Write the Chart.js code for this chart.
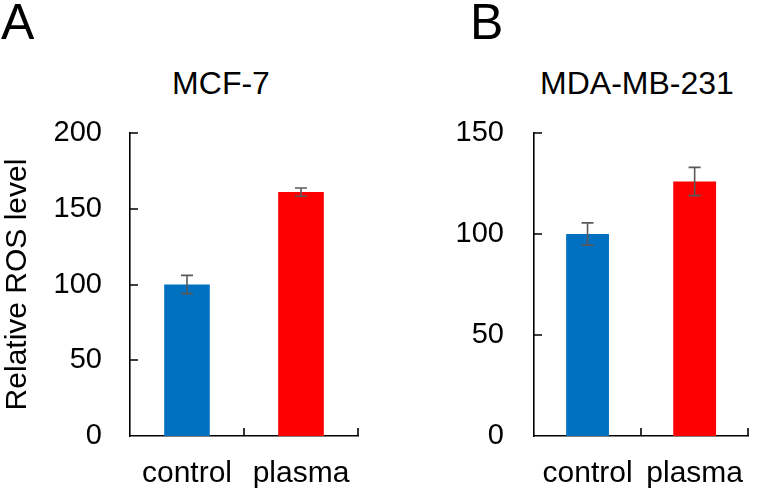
<!DOCTYPE html>
<html>
<head>
<meta charset="utf-8">
<script src="https://cdn.jsdelivr.net/npm/chart.js@4"></script>
<style>
  body { margin: 0; background: #fff; width: 764px; height: 492px; overflow: hidden; position: relative; font-family: "Liberation Sans", Arial, sans-serif; }
  canvas { position: absolute; top: 0; }
  .panel-letter { position: absolute; font-size: 50px; line-height: 50px; color: #000; }
  .panel-title { position: absolute; font-size: 32px; line-height: 32px; color: #000; text-align: center; width: 300px; }
</style>
</head>
<body>
<div class="panel-letter" style="left:1px; top:-3px;">A</div>
<div class="panel-letter" style="left:470px; top:-3px;">B</div>
<div class="panel-title" style="left:71px; top:67px;">MCF-7</div>
<div class="panel-title" style="left:487px; top:67px;">MDA-MB-231</div>
<canvas id="chartA" width="382" height="492" style="left:0"></canvas>
<canvas id="chartB" width="382" height="492" style="left:382px"></canvas>
<script>
// data
const categories = ['control', 'plasma'];
const mcfValues = [100, 161];
const mcfErrors = [6, 2.7];
const mdaValues = [100, 126];
const mdaErrors = [5.5, 7];
const mcfYTicks = [0, 50, 100, 150, 200];
const mdaYTicks = [0, 50, 100, 150];
const barColors = ['#0070C0', '#FF0000'];

const FONT = '"Liberation Sans", Arial, sans-serif';

// error bars drawn on top of the bars
const errorBars = {
    id: 'errorBars',
    afterDatasetsDraw(chart, args, opts) {
        const { ctx } = chart;
        const y = chart.scales.y;
        const meta = chart.getDatasetMeta(0);
        const values = chart.data.datasets[0].data;
        ctx.save();
        ctx.strokeStyle = '#595959';
        ctx.lineWidth = 1.6;
        meta.data.forEach((bar, i) => {
            const err = opts.errors[i];
            const top = y.getPixelForValue(values[i] + err);
            const bot = y.getPixelForValue(values[i] - err);
            ctx.beginPath();
            ctx.moveTo(bar.x, top); ctx.lineTo(bar.x, bot);
            ctx.moveTo(bar.x - 6, top); ctx.lineTo(bar.x + 6, top);
            ctx.moveTo(bar.x - 6, bot); ctx.lineTo(bar.x + 6, bot);
            ctx.stroke();
        });
        ctx.restore();
    }
};

// tick marks pointing into the plot, like the Excel original
const innerTicks = {
    id: 'innerTicks',
    afterDraw(chart) {
        const { ctx, chartArea } = chart;
        const x = chart.scales.x, y = chart.scales.y;
        ctx.save();
        ctx.strokeStyle = '#000';
        ctx.lineWidth = 1.6;
        ctx.beginPath();
        y.ticks.forEach(t => {
            if (t.value === 0) return;
            const py = Math.round(y.getPixelForValue(t.value));
            ctx.moveTo(chartArea.left, py);
            ctx.lineTo(chartArea.left + 8, py);
        });
        const step = x.getPixelForValue(1) - x.getPixelForValue(0);
        categories.forEach((c, i) => {
            const px = Math.round(x.getPixelForValue(i) + step / 2);
            ctx.moveTo(px, chartArea.bottom);
            ctx.lineTo(px, chartArea.bottom - 8);
        });
        ctx.stroke();
        ctx.restore();
    }
};

function makeChart(id, values, errors, yTicks, axisWidth, labelPad, padRight, yTitle) {
    return new Chart(document.getElementById(id), {
        type: 'bar',
        data: {
            labels: categories,
            datasets: [{
                data: values,
                backgroundColor: barColors,
                borderWidth: 0,
                barPercentage: 0.4,
                categoryPercentage: 1
            }]
        },
        options: {
            responsive: false,
            animation: false,
            devicePixelRatio: 1,
            layout: { padding: { top: 133, right: padRight, bottom: 0, left: 0 } },
            plugins: {
                legend: { display: false },
                tooltip: { enabled: false },
                errorBars: { errors }
            },
            scales: {
                x: {
                    grid: { display: false, drawTicks: false },
                    border: { display: true, color: '#000', width: 1.6 },
                    ticks: { color: '#000', padding: 20, font: { family: FONT, size: 30 } },
                    afterFit(scale) { scale.height = 56; }
                },
                y: {
                    min: yTicks[0],
                    max: yTicks[yTicks.length - 1],
                    grid: { display: false, drawTicks: false },
                    border: { display: true, color: '#000', width: 1.6 },
                    ticks: { stepSize: yTicks[1] - yTicks[0], color: '#000', padding: labelPad, font: { family: FONT, size: 29 } },
                    title: {
                        display: !!yTitle,
                        text: yTitle || '',
                        color: '#000',
                        padding: 0,
                        font: { family: FONT, size: 30 }
                    },
                    afterFit(scale) { scale.width = axisWidth; }
                }
            }
        },
        plugins: [errorBars, innerTicks]
    });
}

makeChart('chartA', mcfValues, mcfErrors, mcfYTicks, 130, 28, 24, 'Relative ROS level');
makeChart('chartB', mdaValues, mdaErrors, mdaYTicks, 152, 30, 4, null);
</script>
</body>
</html>
